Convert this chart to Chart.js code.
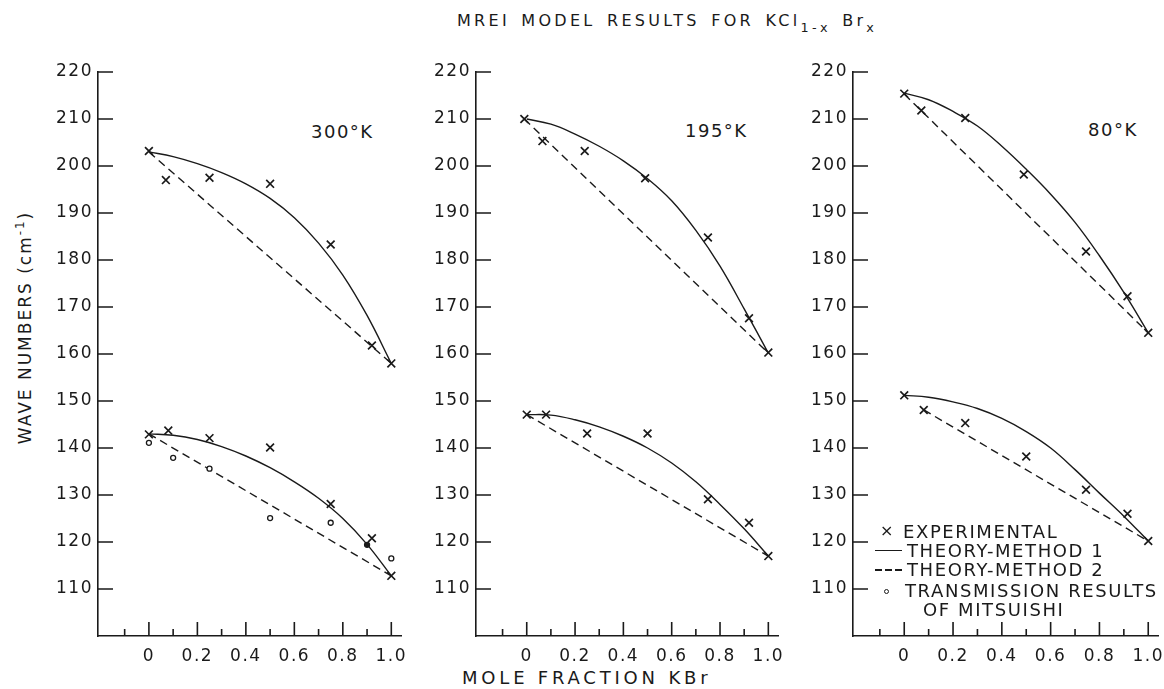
<!DOCTYPE html>
<html>
<head>
<meta charset="utf-8">
<title>MREI model results for KCl(1-x)Br(x)</title>
<script src="https://cdn.jsdelivr.net/npm/chart.js@4.4.1/dist/chart.umd.min.js"></script>
<style>
  html, body { margin: 0; padding: 0; background: #fff; }
  body { position: relative; width: 1164px; height: 689px; overflow: hidden;
         font-family: "DejaVu Sans", sans-serif; color: #1a1a1a; }
  canvas { position: absolute; top: 0; }
  .txt { position: absolute; white-space: nowrap; line-height: 1; }
  .txt sub { font-size: 0.8em; vertical-align: -0.45em; line-height: 0; }
  .txt sup { font-size: 0.7em; vertical-align: 0.55em; line-height: 0; }
  .leg { font-size: 18px; letter-spacing: 1.6px; }
  .temp { font-size: 18px; letter-spacing: 1.5px; }
</style>
</head>
<body>

<div class="txt" style="left:457px;top:13px;font-size:16px;letter-spacing:3.3px;word-spacing:3px">MREI MODEL RESULTS FOR KCl<sub>1-x</sub> Br<sub>x</sub></div>
<div class="txt" style="left:-105px;top:319px;width:260px;text-align:center;font-size:17px;letter-spacing:2px;transform:rotate(-90deg)">WAVE NUMBERS (cm<sup>-1</sup>)</div>
<div class="txt" style="left:462px;top:669px;font-size:18px;letter-spacing:3.8px">MOLE FRACTION KBr</div>

<div class="txt temp" style="left:311px;top:123px">300°K</div>
<div class="txt temp" style="left:685px;top:122px">195°K</div>
<div class="txt temp" style="left:1088px;top:121px">80°K</div>

<canvas id="c0"></canvas>
<canvas id="c1"></canvas>
<canvas id="c2"></canvas>

<div class="txt" style="left:880px;top:523px;font-size:16px">×</div>
<div style="position:absolute;left:875px;top:550px;width:27px;border-top:1.5px solid #1a1a1a"></div>
<div style="position:absolute;left:875px;top:569px;width:27px;height:1.5px;background:repeating-linear-gradient(to right,#1a1a1a 0 7px,transparent 7px 10px)"></div>
<div style="position:absolute;left:884px;top:589px;width:3px;height:3px;border:1.3px solid #1a1a1a;border-radius:50%"></div>
<div class="txt leg" style="left:903px;top:523px">EXPERIMENTAL</div>
<div class="txt leg" style="left:907px;top:542px">THEORY-METHOD 1</div>
<div class="txt leg" style="left:907px;top:561px">THEORY-METHOD 2</div>
<div class="txt leg" style="left:905px;top:582px">TRANSMISSION RESULTS</div>
<div class="txt leg" style="left:923px;top:601px">OF MITSUISHI</div>

<script>
// axis ticks
const yTickValues = [110, 120, 130, 140, 150, 160, 170, 180, 190, 200, 210, 220];
const xTickValues = [0, 0.2, 0.4, 0.6, 0.8, 1.0];
const xTickLabels = ['0', '0.2', '0.4', '0.6', '0.8', '1.0'];
const xMinorTicks = [-0.1, 0.1, 0.3, 0.5, 0.7, 0.9];

const curveX = [0, 0.1, 0.2, 0.3, 0.4, 0.5, 0.6, 0.7, 0.8, 0.9, 1.0];

// 300 K
const m1High300 = [203, 202.0, 200.5, 198.6, 196.2, 193.1, 189.0, 183.6, 176.8, 168.2, 158];
const m1Low300 = [143, 142.7, 141.8, 140.3, 138.3, 135.8, 132.8, 129.3, 125.0, 119.5, 112.8];
const m2High300 = [[0, 203], [1, 158]];
const m2Low300 = [[0, 143], [1, 112.8]];
const expHigh300 = [[0, 203.2], [0.07, 197], [0.25, 197.5], [0.5, 196.2], [0.75, 183.3], [0.92, 161.8], [1.0, 158]];
const expLow300 = [[0, 142.9], [0.08, 143.7], [0.25, 142.1], [0.5, 140.1], [0.75, 128.1], [0.92, 120.8], [1.0, 112.8]];
const mitsuishi300 = [[0, 141.1], [0.1, 137.9], [0.25, 135.6], [0.5, 125.1], [0.75, 124.1], [0.9, 119.4], [1.0, 116.5]];
const mitsuishiFilled = 5;

// 195 K
const m1High195 = [210.0, 208.9, 206.8, 204.2, 201.1, 197.3, 192.6, 186.3, 178.7, 169.6, 160.2];
const m1Low195 = [147.1, 147.0, 146.0, 144.5, 142.5, 140.0, 136.8, 132.8, 128.0, 122.8, 117.0];
const m2High195 = [[-0.01, 210], [1, 160.2]];
const m2Low195 = [[0, 147.1], [1, 117]];
const expHigh195 = [[-0.01, 210], [0.065, 205.3], [0.24, 203.2], [0.49, 197.4], [0.75, 184.8], [0.92, 167.6], [1.0, 160.3]];
const expLow195 = [[0, 147.1], [0.08, 147.1], [0.25, 143.1], [0.5, 143.1], [0.75, 129.1], [0.92, 124.1], [1.0, 117]];

// 80 K
const m1High80 = [215.5, 214.1, 211.6, 208.5, 204.2, 199.3, 194.0, 188.0, 180.9, 173.1, 164.5];
const m1Low80 = [151.2, 150.8, 149.8, 148.4, 146.3, 143.5, 140.0, 135.4, 130.4, 125.5, 120.2];
const m2High80 = [[0, 215.3], [1, 164.5]];
const m2Low80 = [[0.08, 148.1], [1, 120.2]];
const expHigh80 = [[0, 215.4], [0.07, 211.8], [0.25, 210.2], [0.49, 198.2], [0.745, 181.8], [0.915, 172.3], [1.0, 164.5]];
const expLow80 = [[0, 151.2], [0.08, 148.1], [0.25, 145.3], [0.5, 138.2], [0.745, 131.1], [0.915, 126], [1.0, 120.2]];

const INK = '#1a1a1a';
const FONT = { family: 'DejaVu Sans', size: 17 };

// plot area of each panel on the page (left, right); top 72, bottom 636
const panelBox = [[98, 401], [476, 778], [853, 1158]];

const toPts = arr => arr.map(p => ({ x: p[0], y: p[1] }));
const curvePts = ys => curveX.map((x, i) => ({ x: x, y: ys[i] }));

const solid = ys => ({
  data: curvePts(ys), showLine: true, pointRadius: 0, borderColor: INK,
  borderWidth: 1.4, tension: 0.4, fill: false
});
const dashed = pts => ({
  data: toPts(pts), showLine: true, pointRadius: 0, borderColor: INK,
  borderWidth: 1.4, borderDash: [8, 5], fill: false
});
const crosses = pts => ({
  data: toPts(pts), showLine: false, pointStyle: 'crossRot', pointRadius: 5.5,
  borderColor: INK, borderWidth: 1.7
});
const circles = pts => ({
  data: toPts(pts), showLine: false, pointStyle: 'circle', pointRadius: 2.5,
  borderColor: INK, borderWidth: 1.3,
  backgroundColor: ctx => ctx.dataIndex === mitsuishiFilled ? INK : '#fff'
});

const panels = [
  [crosses(expHigh300), crosses(expLow300), circles(mitsuishi300),
   solid(m1High300), solid(m1Low300), dashed(m2High300), dashed(m2Low300)],
  [crosses(expHigh195), crosses(expLow195),
   solid(m1High195), solid(m1Low195), dashed(m2High195), dashed(m2Low195)],
  [crosses(expHigh80), crosses(expLow80),
   solid(m1High80), solid(m1Low80), dashed(m2High80), dashed(m2Low80)]
];

// wider lettering for the tick labels
const spacedText = {
  id: 'spacedText',
  beforeDraw(chart) { chart.ctx.letterSpacing = '1.5px'; }
};

// tick marks point into the plot, like the original drawing
const innerTicks = {
  id: 'innerTicks',
  afterDraw(chart) {
    const { ctx, chartArea: a, scales: { x, y } } = chart;
    ctx.save();
    ctx.strokeStyle = INK;
    ctx.lineWidth = 1.6;
    ctx.beginPath();
    yTickValues.forEach(v => {
      const py = y.getPixelForValue(v);
      ctx.moveTo(a.left, py); ctx.lineTo(a.left + 15, py);
    });
    xTickValues.forEach(v => {
      const px = x.getPixelForValue(v);
      ctx.moveTo(px, a.bottom); ctx.lineTo(px, a.bottom - 14);
    });
    xMinorTicks.forEach(v => {
      const px = x.getPixelForValue(v);
      ctx.moveTo(px, a.bottom); ctx.lineTo(px, a.bottom - 7);
    });
    ctx.stroke();
    ctx.restore();
  }
};

panels.forEach((datasets, i) => {
  const [left, right] = panelBox[i];
  const canvas = document.getElementById('c' + i);
  canvas.width = right - left + 90;
  canvas.height = 689;
  canvas.style.left = (left - 70) + 'px';

  new Chart(canvas.getContext('2d'), {
    type: 'scatter',
    data: { datasets: datasets },
    options: {
      responsive: false,
      animation: false,
      events: [],
      devicePixelRatio: 1,
      layout: { padding: { left: 0, right: 20, top: 72, bottom: 0 } },
      plugins: { legend: { display: false }, tooltip: { enabled: false } },
      scales: {
        x: {
          type: 'linear', min: -0.21, max: 1.04,
          afterBuildTicks: s => { s.ticks = xTickValues.map(v => ({ value: v })); },
          afterFit: s => { s.height = 53; },
          grid: { display: true, drawOnChartArea: false, drawTicks: false },
          border: { display: true, color: INK, width: 1.6 },
          ticks: { color: INK, font: FONT, padding: 10, autoSkip: false, maxRotation: 0,
                   callback: (v, idx) => xTickLabels[idx] }
        },
        y: {
          type: 'linear', min: 100, max: 220,
          afterBuildTicks: s => { s.ticks = yTickValues.map(v => ({ value: v })); },
          afterFit: s => { s.width = 70; },
          grid: { display: true, drawOnChartArea: false, drawTicks: false },
          border: { display: true, color: INK, width: 1.6 },
          ticks: { color: INK, font: FONT, padding: 5, autoSkip: false,
                   callback: v => String(v) }
        }
      }
    },
    plugins: [spacedText, innerTicks]
  });
});
</script>
</body>
</html>
